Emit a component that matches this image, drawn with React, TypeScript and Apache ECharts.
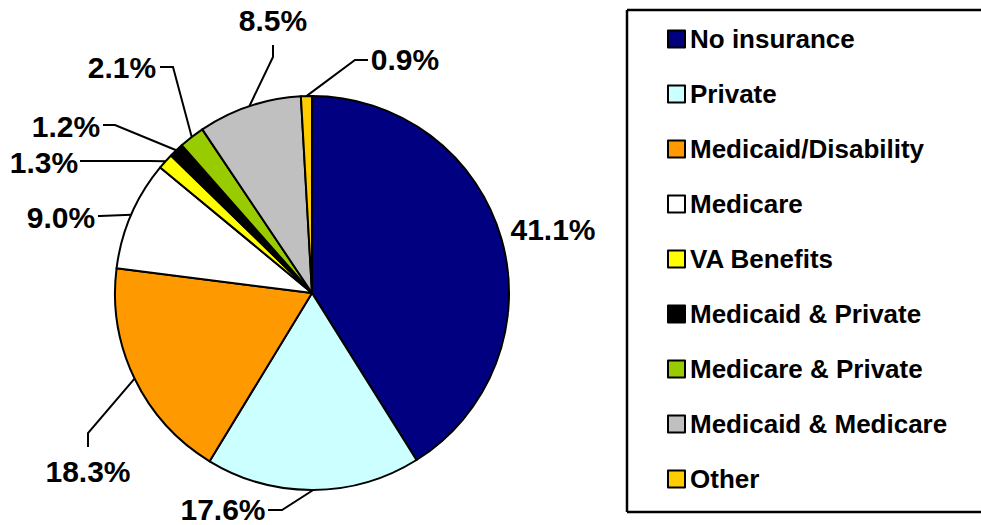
import React, { useEffect, useRef } from "react";
import * as echarts from "echarts";

const categories = [
  "No insurance",
  "Private",
  "Medicaid/Disability",
  "Medicare",
  "VA Benefits",
  "Medicaid & Private",
  "Medicare & Private",
  "Medicaid & Medicare",
  "Other",
];
const values = [41.1, 17.6, 18.3, 9.0, 1.3, 1.2, 2.1, 8.5, 0.9];
const colors = [
  "#000080",
  "#CCFFFF",
  "#FF9900",
  "#FFFFFF",
  "#FFFF00",
  "#000000",
  "#99CC00",
  "#C0C0C0",
  "#FFCC00",
];

// label placement: text centre, elbow, end of leader line (null = no line)
const labelPos: { x: number; y: number; elbow: number[] | null; end: number[] | null }[] = [
  { x: 553, y: 229, elbow: null, end: null },
  { x: 223, y: 509, elbow: [282, 510], end: [268, 510] },
  { x: 88, y: 471, elbow: [88, 433], end: [88, 447] },
  { x: 61, y: 217, elbow: [100, 216], end: [98, 216] },
  { x: 44, y: 162, elbow: [150, 161], end: [80, 161] },
  { x: 66, y: 126, elbow: [115, 125], end: [103, 125] },
  { x: 122, y: 67, elbow: [173, 67], end: [160, 67] },
  { x: 273, y: 20, elbow: [273, 57], end: [273, 45] },
  { x: 405, y: 59, elbow: [355, 60], end: [368, 60] },
];

const FONT = "'Liberation Sans', Arial, Helvetica, sans-serif";

export default function App() {
  const ref = useRef<HTMLDivElement>(null);
  useEffect(() => {
    if (!ref.current) return;
    const chart = echarts.init(ref.current, null, { renderer: "svg" });
    const boxStyle = { stroke: "#000", lineWidth: 2.5 };
    chart.setOption({
      animation: false,
      backgroundColor: "#ffffff",
      graphic: [
        { type: "line", shape: { x1: 627, y1: 10, x2: 981, y2: 10 }, style: boxStyle, z: 0 },
        { type: "line", shape: { x1: 627, y1: 512, x2: 981, y2: 512 }, style: boxStyle, z: 0 },
        { type: "line", shape: { x1: 627, y1: 10, x2: 627, y2: 512 }, style: boxStyle, z: 0 },
      ],
      legend: {
        orient: "vertical",
        left: 662,
        top: 21,
        itemWidth: 17,
        itemHeight: 17,
        itemGap: 29,
        icon: "rect",
        itemStyle: { borderColor: "#000", borderWidth: 2 },
        textStyle: {
          fontFamily: FONT,
          fontWeight: "bold",
          fontSize: 26,
          lineHeight: 25,
          color: "#000",
          padding: [0, 0, 0, 0],
        },
        data: categories,
      },
      series: [
        {
          type: "pie",
          center: [312, 293],
          radius: 197,
          startAngle: 90,
          clockwise: true,
          avoidLabelOverlap: false,
          itemStyle: { borderColor: "#000", borderWidth: 2 },
          emphasis: { disabled: true },
          label: {
            show: true,
            position: "outside",
            fontFamily: FONT,
            fontWeight: "bold",
            fontSize: 30,
            color: "#000",
            formatter: (p: any) => p.value.toFixed(1) + "%",
          },
          labelLine: {
            show: true,
            lineStyle: { color: "#000", width: 2 },
          },
          labelLayout: (params: any) => {
            const lp = labelPos[params.dataIndex];
            const res: any = {
              x: lp.x,
              y: lp.y,
              align: "center",
              verticalAlign: "middle",
            };
            if (lp.elbow && lp.end && params.labelLinePoints) {
              res.labelLinePoints = [params.labelLinePoints[0], lp.elbow, lp.end];
            }
            return res;
          },
          data: categories.map((name, i) => ({
            name,
            value: values[i],
            itemStyle: { color: colors[i] },
            labelLine: { show: labelPos[i].elbow !== null },
          })),
        },
      ],
    });
    return () => chart.dispose();
  }, []);
  return (
    <div
      ref={ref}
      style={{ position: "absolute", left: 0, top: 0, width: 981, height: 525 }}
    />
  );
}
